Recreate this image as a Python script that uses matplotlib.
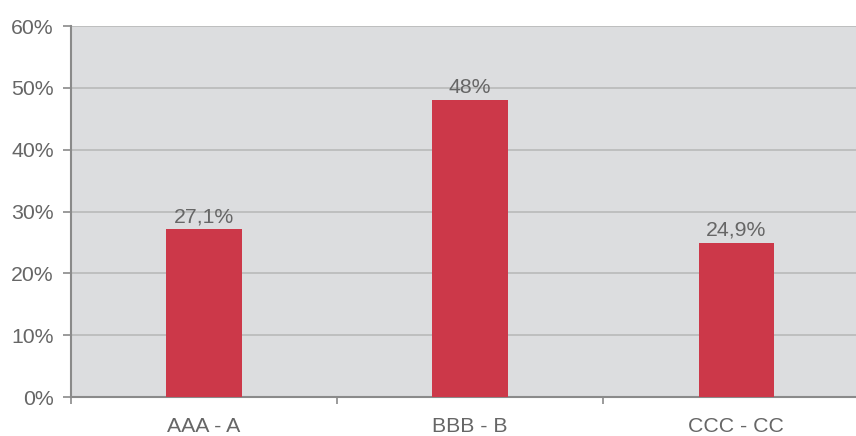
import matplotlib.pyplot as plt
import numpy as np

categories = ["AAA - A", "BBB - B", "CCC - CC"]
values = [27.1, 48.0, 24.9]
value_labels = ["27,1%", "48%", "24,9%"]
yticks = [0, 10, 20, 30, 40, 50, 60]

plt.rcParams['font.family'] = ['Liberation Sans', 'DejaVu Sans']

bg = "#dcdddf"
bar_col = "#cc3849"
txt = "#666666"
axis_col = "#8a8a8a"
fs = 15.3

fig = plt.figure(figsize=(8.56, 4.36), dpi=100)
ax = fig.add_axes([71/856, 39/436, 1 - 71/856, (397-26)/436])
ax.set_facecolor(bg)

x = np.arange(len(categories))
bars = ax.bar(x, values, width=0.283, color=bar_col, zorder=3)

for b, lab in zip(bars, value_labels):
    ax.text(b.get_x() + b.get_width()/2, b.get_height() + 0.5, lab,
            ha="center", va="bottom", fontsize=fs, color=txt, zorder=4)

ax.set_ylim(0, 60)
ax.set_xlim(-0.5, 2.45)
ax.set_yticks(yticks)
ax.set_yticklabels([f"{t}%" for t in yticks])
ax.yaxis.grid(True, color="#b9b9b9", lw=1.2, zorder=1)

# category labels centred, ticks on category boundaries
ax.set_xticks(x)
ax.set_xticklabels(categories)
ax.set_xticks([-0.5, 0.5, 1.5], minor=True)
ax.tick_params(axis="x", which="major", length=0, pad=14.5, labelsize=fs, labelcolor=txt)
ax.tick_params(axis="x", which="minor", length=5, color=axis_col, width=1.2)
ax.tick_params(axis="y", length=6, color=axis_col, width=1.2, labelsize=fs, labelcolor=txt, pad=6.5)

for s in ["top", "right"]:
    ax.spines[s].set_visible(False)
for s in ["left", "bottom"]:
    ax.spines[s].set_color(axis_col)
    ax.spines[s].set_linewidth(1.5)

fig.savefig("out.png", dpi=100)
